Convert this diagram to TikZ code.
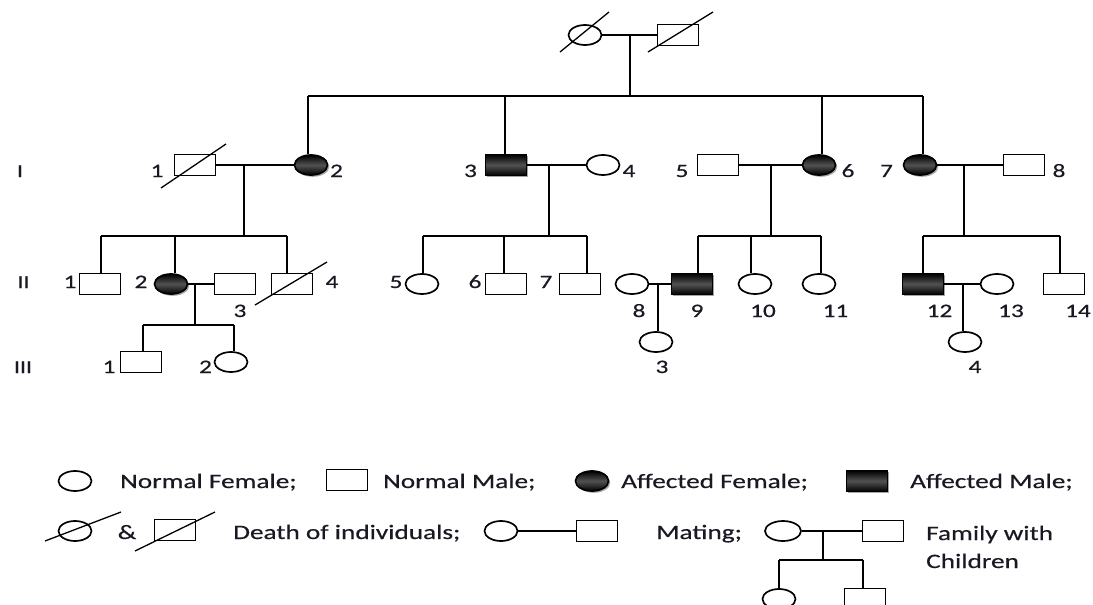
\documentclass[tikz,border=0pt]{standalone}
\usepackage{fontspec}
\setmainfont{Carlito}[FakeStretch=1.33,FakeBold=0.5]
\usetikzlibrary{shapes.geometric,shadows}
\definecolor{ink}{RGB}{25,25,35}

\begin{document}
\begin{tikzpicture}[x=1pt,y=-1pt,
  line/.style={line width=2pt,black},
  fem/.style={ellipse,draw,line width=1.7pt,minimum width=33pt,minimum height=20pt,inner sep=0pt,fill=white},
  mal/.style={rectangle,draw,line width=1.7pt,minimum width=41pt,minimum height=21pt,inner sep=0pt,fill=white},
  aff/.style={top color=black,bottom color=black,middle color=black!68,
    drop shadow={shadow xshift=1.8pt,shadow yshift=-1.8pt,fill=black!50,opacity=0.7}},
  dead/.style={line width=1.3pt,black},
  num/.style={font=\fontsize{19}{22}\selectfont,anchor=base,inner sep=0pt,text=ink},
  gen/.style={font=\fontsize{18}{22}\selectfont,anchor=base,inner sep=0pt,text=ink},
  leg/.style={font=\fontsize{20.5}{24}\selectfont,anchor=base west,inner sep=0pt,text=ink}
]
\path[use as bounding box,clip] (0,0) rectangle (1093,605);

% ---------- founders ----------
\node[fem] (g0f) at (585,35) {};
\node[mal] (g0m) at (678,35) {};
\draw[dead] ([shift={(-25,17)}]g0f.center) -- ([shift={(24,-23)}]g0f.center);
\draw[dead] ([shift={(-30,17)}]g0m.center) -- ([shift={(35,-23)}]g0m.center);
\coordinate (m0) at (630,35);
\coordinate (t0) at (630,96);
\draw[line] (g0f.east) -- (g0m.west);
\draw[line] (m0) -- (t0);

% ---------- generation I ----------
\node[mal] (i1) at (195,165) {};
\node[fem,aff] (i2) at (311,165) {};
\node[mal,aff] (i3) at (506,165) {};
\node[fem] (i4) at (603,165) {};
\node[mal] (i5) at (718,165) {};
\node[fem,aff] (i6) at (819,165) {};
\node[fem,aff] (i7) at (920,165) {};
\node[mal] (i8) at (1024,165) {};
\draw[dead] ([shift={(-34,23)}]i1.center) -- ([shift={(31,-21)}]i1.center);

\coordinate (t1) at (308,96);
\coordinate (t2) at (505,96);
\coordinate (t3) at (822,96);
\coordinate (t4) at (923,96);
\draw[line] (t1) -- (t4);
\draw[line] (t1) -- (t1 |- i2.north);
\draw[line] (t2) -- (t2 |- i3.north);
\draw[line] (t3) -- (t3 |- i6.north);
\draw[line] (t4) -- (t4 |- i7.north);

% couples of generation I
\draw[line] (i1.east) -- (i2.west);
\draw[line] (i3.east) -- (i4.west);
\draw[line] (i5.east) -- (i6.west);
\draw[line] (i7.east) -- (i8.west);
\coordinate (m1) at (244,165);
\coordinate (m2) at (549,165);
\coordinate (m3) at (771,165);
\coordinate (m4) at (964,165);

% ---------- generation II ----------
\node[mal] (ii1) at (100,284) {};
\node[fem,aff] (ii2) at (171,284) {};
\node[mal] (ii3) at (235,284) {};
\node[mal] (ii4) at (292,284) {};
\node[fem] (ii5) at (422,284) {};
\node[mal] (ii6) at (506,284) {};
\node[mal] (ii7) at (580,284) {};
\node[fem] (ii8) at (632,284) {};
\node[mal,aff] (ii9) at (692,284) {};
\node[fem] (ii10) at (755,284) {};
\node[fem] (ii11) at (819,284) {};
\node[mal,aff] (ii12) at (923,284) {};
\node[fem] (ii13) at (997,284) {};
\node[mal] (ii14) at (1064,284) {};
\draw[dead] ([shift={(-37,21)}]ii4.center) -- ([shift={(35,-22)}]ii4.center);

% sibships of generation II
\coordinate (sa1) at (101,236);
\coordinate (sa2) at (175,236);
\coordinate (sa3) at (287,236);
\draw[line] (m1) -- (m1 |- sa1);
\draw[line] (sa1) -- (sa3);
\draw[line] (sa1) -- (sa1 |- ii1.north);
\draw[line] (sa2) -- (sa2 |- ii2.north);
\draw[line] (sa3) -- (sa3 |- ii4.north);

\coordinate (sb1) at (423,236);
\coordinate (sb2) at (504,236);
\coordinate (sb3) at (587,236);
\draw[line] (m2) -- (m2 |- sb1);
\draw[line] (sb1) -- (sb3);
\draw[line] (sb1) -- (sb1 |- ii5.north);
\draw[line] (sb2) -- (sb2 |- ii6.north);
\draw[line] (sb3) -- (sb3 |- ii7.north);

\coordinate (sc1) at (698,236);
\coordinate (sc2) at (751,236);
\coordinate (sc3) at (821,236);
\draw[line] (m3) -- (m3 |- sc1);
\draw[line] (sc1) -- (sc3);
\draw[line] (sc1) -- (sc1 |- ii9.north);
\draw[line] (sc2) -- (sc2 |- ii10.north);
\draw[line] (sc3) -- (sc3 |- ii11.north);

\coordinate (sd1) at (923,236);
\coordinate (sd2) at (1060,236);
\draw[line] (m4) -- (m4 |- sd1);
\draw[line] (sd1) -- (sd2);
\draw[line] (sd1) -- (sd1 |- ii12.north);
\draw[line] (sd2) -- (sd2 |- ii14.north);

% couples of generation II
\draw[line] (ii2.east) -- (ii3.west);
\draw[line] (ii8.east) -- (ii9.west);
\draw[line] (ii12.east) -- (ii13.west);
\coordinate (m5) at (195,284);
\coordinate (m6) at (658,284);
\coordinate (m7) at (963,284);

% ---------- generation III ----------
\node[mal] (iii1) at (141,362) {};
\node[fem] (iii2) at (231,362) {};
\node[fem] (iii3) at (656,342) {};
\node[fem] (iii4) at (965,342) {};

\coordinate (se1) at (143,325);
\coordinate (se2) at (234,325);
\draw[line] (m5) -- (m5 |- se1);
\draw[line] (se1) -- (se2);
\draw[line] (se1) -- (se1 |- iii1.north);
\draw[line] (se2) -- (se2 |- iii2.north);
\draw[line] (m6) -- (m6 |- iii3.north);
\draw[line] (m7) -- (m7 |- iii4.north);

% ---------- labels ----------
\node[gen] (gI) at (20,177) {I};
\node[gen] (gII) at (23.5,288) {II};
\node[gen] (gIII) at (23,373) {III};

\node[num] (n-i1) at (157,177) {1};
\node[num] (n-i2) at (336.5,177) {2};
\node[num] (n-i3) at (470.5,177) {3};
\node[num] (n-i4) at (629,177) {4};
\node[num] (n-i5) at (682,177) {5};
\node[num] (n-i6) at (848,177) {6};
\node[num] (n-i7) at (886.5,177) {7};
\node[num] (n-i8) at (1059,177) {8};

\node[num] (n-ii1) at (70,288) {1};
\node[num] (n-ii2) at (141,288) {2};
\node[num] (n-ii3) at (240,317) {3};
\node[num] (n-ii4) at (332,288) {4};
\node[num] (n-ii5) at (396,288) {5};
\node[num] (n-ii6) at (475,288) {6};
\node[num] (n-ii7) at (546,288) {7};
\node[num] (n-ii8) at (639,317) {8};
\node[num] (n-ii9) at (697,317) {9};
\node[num] (n-ii10) at (763,317) {10};
\node[num] (n-ii11) at (835.5,317) {11};
\node[num] (n-ii12) at (939.5,317) {12};
\node[num] (n-ii13) at (1011,317) {13};
\node[num] (n-ii14) at (1078,317) {14};

\node[num] (n-iii1) at (109,373) {1};
\node[num] (n-iii2) at (205.5,373) {2};
\node[num] (n-iii3) at (662,373) {3};
\node[num] (n-iii4) at (975,373) {4};

% ---------- key ----------
\node[fem] (k-f) at (75,481) {};
\node[leg] (k-ft) at (120,488) {Normal Female;};
\node[mal] (k-m) at (347,480) {};
\node[leg] (k-mt) at (383,488) {Normal Male;};
\node[fem,aff] (k-af) at (592,481) {};
\node[leg] (k-aft) at (621,488) {Affected Female;};
\node[mal,aff] (k-am) at (867,481) {};
\node[leg] (k-amt) at (910,488) {Affected Male;};

\node[fem] (k-df) at (75,531) {};
\draw[dead] ([shift={(-30,10)}]k-df.center) -- ([shift={(46,-19)}]k-df.center);
\node[leg,anchor=base] (k-and) at (127,539) {\&};
\node[mal] (k-dm) at (175,530) {};
\draw[dead] ([shift={(-40,21)}]k-dm.center) -- ([shift={(40,-18)}]k-dm.center);
\node[leg] (k-dt) at (233,539) {Death of individuals;};

\node[fem] (k-mf) at (501,531) {};
\node[mal] (k-mm) at (597,531) {};
\draw[line] (k-mf.east) -- (k-mm.west);
\node[leg] (k-mt2) at (656,539) {Mating;};

\node[fem,minimum width=36pt] (k-pf) at (783,531) {};
\node[mal] (k-pm) at (883,531) {};
\draw[line] (k-pf.east) -- (k-pm.west);
\node[fem] (k-cf) at (779,599) {};
\node[mal] (k-cm) at (865,599) {};
\coordinate (k-mj) at (822.5,531);
\coordinate (k-s1) at (779,560);
\coordinate (k-s2) at (863,560);
\draw[line] (k-mj) -- (k-mj |- k-s1);
\draw[line] (k-s1) -- (k-s2);
\draw[line] (k-s1) -- (k-s1 |- k-cf.north);
\draw[line] (k-s2) -- (k-s2 |- k-cm.north);
\node[leg] (k-pt1) at (926,540) {Family with};
\node[leg] (k-pt2) at (926,568) {Children};

\end{tikzpicture}
\end{document}
